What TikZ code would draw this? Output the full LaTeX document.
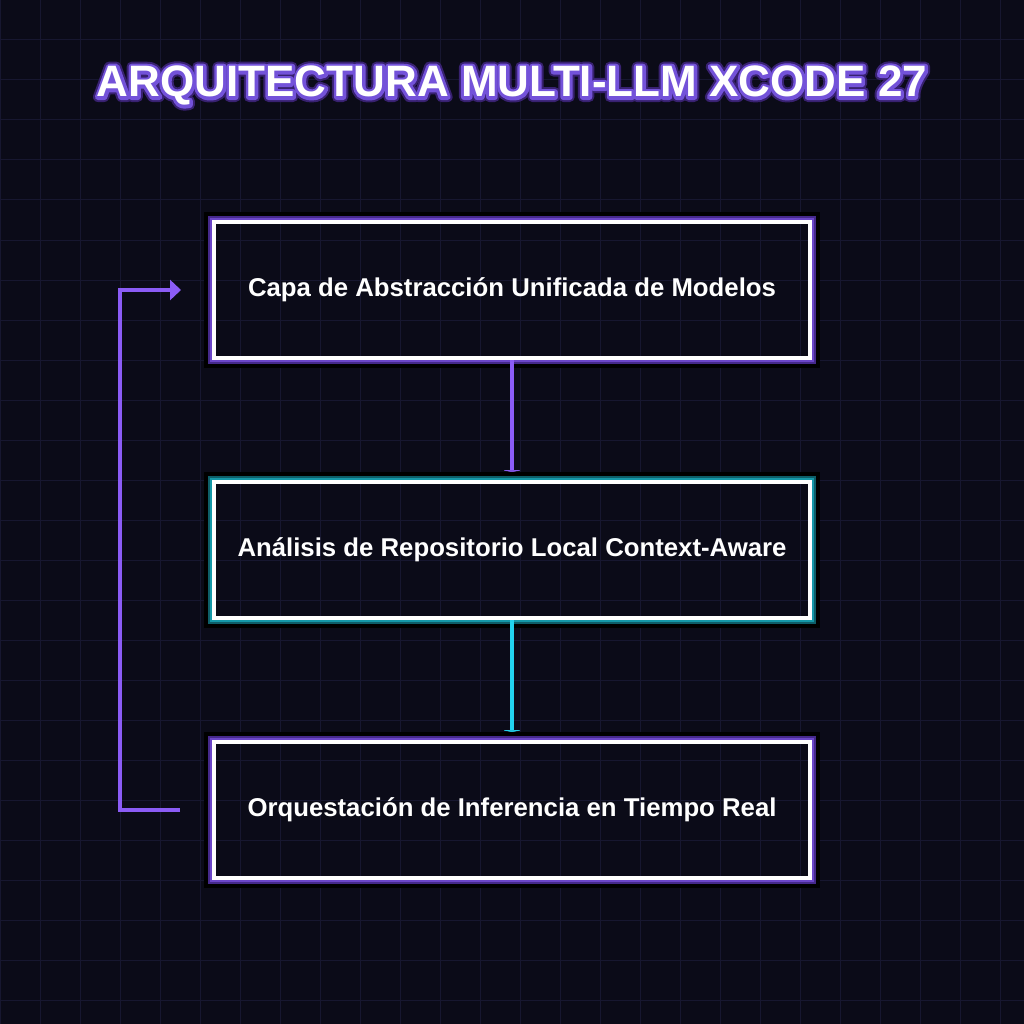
\documentclass[tikz,border=0pt]{standalone}
\usepackage{fontspec}
\setmainfont{Liberation Sans}
\usepackage{tikz}
\usetikzlibrary{positioning, calc, arrows.meta}
\definecolor{xcbg}{HTML}{0B0B18}
\definecolor{xcgrid}{HTML}{171730}
\definecolor{xcviolet}{HTML}{8B5CF6}
\definecolor{xcvioletmd}{HTML}{6B46C8}
\definecolor{xcvioletdk}{HTML}{45298A}
\definecolor{xcteal}{HTML}{1598A8}
\definecolor{xctealdk}{HTML}{0E5E68}
\definecolor{xccyan}{HTML}{22D3EE}

% stroked (outline) text for the title glow
\newcommand{\xcstroke}[2]{\special{pdf:literal direct 1 Tr 1 j #1 w #2 RG}}
\newcommand{\xcfill}{\special{pdf:literal direct 0 Tr}}

\tikzset{
  layer/.style={rectangle, draw=white, line width=4pt, text=white,
    font=\fontsize{25.75}{30}\selectfont\bfseries, inner sep=0pt,
    minimum width=596pt, minimum height=136pt},
  headline/.style={font=\fontsize{44}{52}\selectfont\bfseries, text=white,
    anchor=base, inner sep=0pt},
  flowv/.style={line width=4pt, -{Triangle[length=2pt,width=21pt]}, shorten >=8pt},
  loopback/.style={line width=4pt, xcviolet, -{Triangle[length=11pt,width=20pt]}}
}

\begin{document}
\begin{tikzpicture}[x=1pt, y=-1pt, node distance=120pt]
    % background and grid
    \fill[xcbg] (0,0) rectangle (1024,1024);
    \useasboundingbox (0,0) rectangle (1024,1024);
    \foreach \g in {0,40,...,1000} {
      \draw[xcgrid, line width=1pt] (\g,0) -- (\g,1024);
      \draw[xcgrid, line width=1pt] (0,\g) -- (1024,\g);
    }

    % title
    \node[headline] (titleglow) at (512,97)
      {\xcstroke{10}{0.22 0.13 0.44}ARQUITECTURA MULTI-LLM XCODE 27\xcfill};
    \node[headline] (titleline) at (512,97)
      {\xcstroke{6}{0.45 0.32 0.85}ARQUITECTURA MULTI-LLM XCODE 27\xcfill};
    \node[headline] (title) at (512,97) {ARQUITECTURA MULTI-LLM XCODE 27};

    % layers
    \node[layer] (capa) at (512,290) {Capa de Abstracción Unificada de Modelos};
    \node[layer, below=of capa] (anal) {Análisis de Repositorio Local Context-Aware};
    \node[layer, below=of anal] (orq) {Orquestación de Inferencia en Tiempo Real};

    \foreach \n/\cl/\cd in {capa/xcvioletmd/xcvioletdk, anal/xcteal/xctealdk, orq/xcvioletmd/xcvioletdk} {
      \draw[black, line width=4pt] ($(\n.north west)+(-6,-6)$) rectangle ($(\n.south east)+(6,6)$);
      \draw[\cd, line width=2pt] ($(\n.north west)+(-3,-3)$) rectangle ($(\n.south east)+(3,3)$);
      \draw[\cl, line width=2pt] ($(\n.north west)+(-1,-1)$) rectangle ($(\n.south east)+(1,1)$);
    }

    % connectors
    \draw[flowv, xcviolet] (capa.south) -- (anal.north);
    \draw[flowv, xccyan] (anal.south) -- (orq.north);
    \draw[loopback, shorten <=32pt, shorten >=31pt] (orq.west) -- ++(-92,0) |- (capa.west);
\end{tikzpicture}
\end{document}
